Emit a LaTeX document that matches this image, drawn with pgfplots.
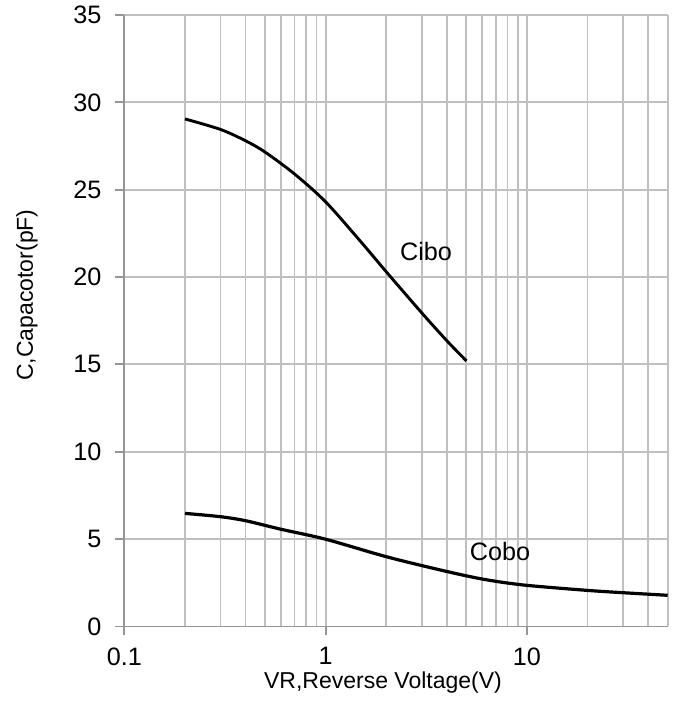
\documentclass[border=0pt]{standalone}
\usepackage{fontspec}
\setmainfont{Liberation Sans}
\usepackage{pgfplots}
\pgfplotsset{compat=1.18}
\definecolor{gridgray}{RGB}{192,192,192}
\definecolor{axgray}{RGB}{150,150,150}
\newcommand{\chfont}{\fontsize{11.5}{13.8}\selectfont}
\newcommand{\tkfont}{\fontsize{12.6}{15}\selectfont}
\begin{document}
\begin{tikzpicture}
\begin{axis}[
  name=ax,
  scale only axis,
  width=271.65pt, height=305.7pt,
  xmode=log,
  xmin=0.1, xmax=50,
  ymin=0, ymax=35,
  ytick={0,5,...,35},
  xtick={0.1,1,10},
  xticklabels={0.1,1,10},
  log basis x=10,
  minor xtick={0.2,0.3,0.4,0.5,0.6,0.7,0.8,0.9,2,3,4,5,6,7,8,9,20,30,40,50},
  axis lines=left,
  axis line style={-, draw=axgray, line width=0.9pt},
  grid=both,
  major grid style={draw=gridgray, line width=0.9pt},
  minor grid style={draw=gridgray, line width=0.9pt},
  tick align=outside,
  major tick length=4.5pt,
  minor tick length=0pt,
  tick style={draw=axgray, line width=0.9pt},
  /pgf/number format/assume math mode=true,
  tick label style={font=\tkfont, text=black},
  yticklabel style={anchor=east, xshift=-3.5pt},
  xticklabel style={anchor=north, yshift=-2.5pt},
  label style={font=\chfont},
  xlabel={VR,Reverse Voltage(V)},
  ylabel={C,Capacotor(pF)},
  xlabel style={at={(axis description cs:0.476,-0.0926)}, anchor=center},
  ylabel style={at={(axis description cs:-0.1793,0.542)}, anchor=center},
  clip=false,
]
\addplot[black, line width=1.45pt, smooth] coordinates {
(0.2,29.05) (0.3,28.45) (0.4,27.8) (0.5,27.15) (0.7,25.9) (1,24.3) (1.5,22.0) (2,20.3) (3,17.95) (4,16.35) (5,15.2)
};
\addplot[black, line width=1.6pt, smooth] coordinates {
(0.2,6.47) (0.3,6.28) (0.4,6.05) (0.6,5.56) (1,4.99) (2,3.99) (3.84,3.19) (6.07,2.70) (9.6,2.37) (19,2.08) (27.9,1.95) (50,1.78)
};
\node[font=\tkfont] at (axis cs:3.15,21.45) {Cibo};
\node[font=\tkfont] at (axis cs:7.35,4.28) {Cobo};
\end{axis}
\pgfresetboundingbox
\path[use as bounding box] ([shift={(-62.2pt,-41.3pt)}]ax.south west) rectangle ([shift={(5.15pt,7.5pt)}]ax.north east);
\end{tikzpicture}
\end{document}
